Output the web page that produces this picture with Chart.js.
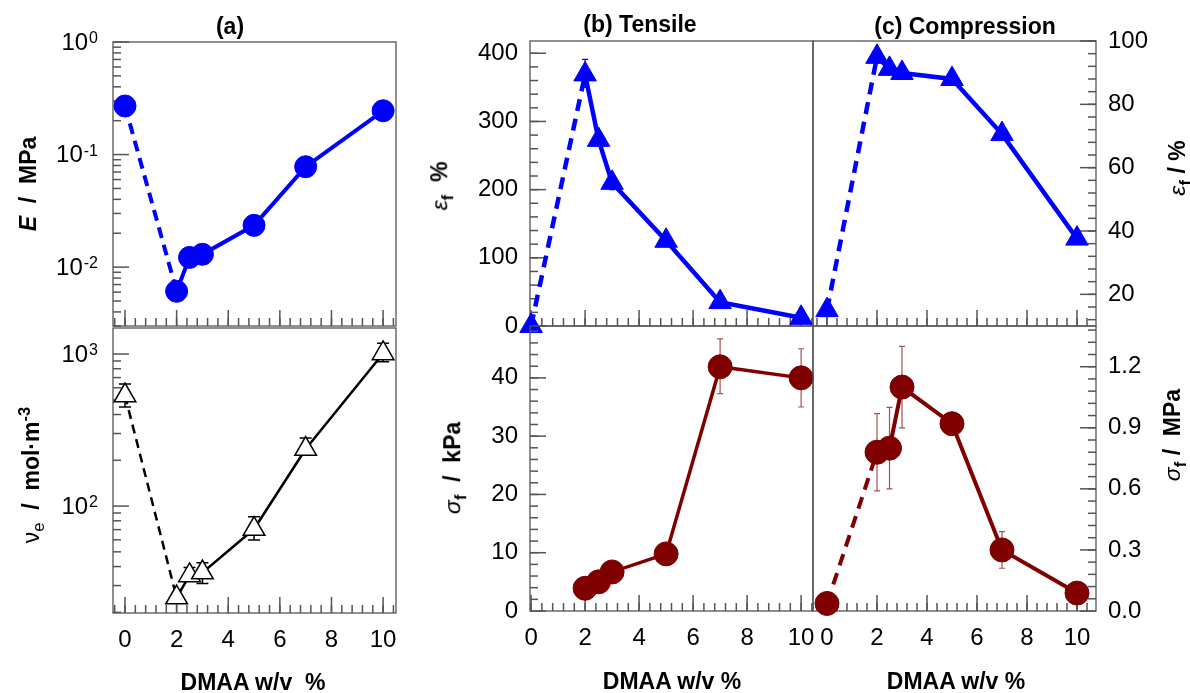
<!DOCTYPE html>
<html lang="en">
<head>
<meta charset="utf-8">
<title>DMAA</title>
<script src="https://cdn.jsdelivr.net/npm/chart.js@4.4.0/dist/chart.umd.min.js"></script>
<style>
  html, body { margin: 0; padding: 0; background: #fff; }
  #lienzo { position: relative; width: 1190px; height: 693px; overflow: hidden; font-family: "Liberation Sans", Arial, sans-serif; }
  #lienzo canvas { position: absolute; left: 0; top: 0; }
  .rotulo { position: absolute; white-space: nowrap; color: #000; font-size: 23px; font-weight: bold; transform: translate(-50%, -50%); }
  .vertical { transform: translate(-50%, -50%) rotate(-90deg); }
  .fino { font-weight: normal; }
  .rotulo sub, .rotulo sup { font-size: 0.72em; }
</style>
</head>
<body>
<div id="lienzo">
  <canvas id="aSup" width="1190" height="693"></canvas>
  <canvas id="aInf" width="1190" height="693"></canvas>
  <canvas id="bSup" width="1190" height="693"></canvas>
  <canvas id="bInf" width="1190" height="693"></canvas>
  <canvas id="cSup" width="1190" height="693"></canvas>
  <canvas id="cInf" width="1190" height="693"></canvas>

  <div class="rotulo" style="left:230px; top:26px">(a)</div>
  <div class="rotulo" style="left:640px; top:24px">(b) Tensile</div>
  <div class="rotulo" style="left:965px; top:26px">(c) Compression</div>

  <div class="rotulo vertical" style="left:28px; top:184px"><i>E</i>&nbsp;&nbsp;/&nbsp;&nbsp;MPa</div>
  <div class="rotulo vertical" style="left:32px; top:475px"><span class="fino">ν<sub>e</sub></span>&nbsp;&nbsp;/&nbsp;&nbsp;mol·m<sup>-3</sup></div>
  <div class="rotulo vertical" style="left:442px; top:186px"><i class="fino">ε</i><sub>f</sub>&nbsp;&nbsp;%</div>
  <div class="rotulo vertical" style="left:455px; top:468px"><i class="fino">σ</i><sub>f</sub>&nbsp;&nbsp;/&nbsp;&nbsp;kPa</div>
  <div class="rotulo vertical" style="left:1180px; top:168px"><i class="fino">ε</i><sub>f</sub>&nbsp;/&nbsp;%</div>
  <div class="rotulo vertical" style="left:1175px; top:435px"><i class="fino">σ</i><sub>f</sub>&nbsp;/&nbsp;&nbsp;MPa</div>

  <div class="rotulo" style="left:253px; top:682px">DMAA w/v&nbsp;&nbsp;%</div>
  <div class="rotulo" style="left:672px; top:681px">DMAA w/v %</div>
  <div class="rotulo" style="left:956px; top:681px">DMAA w/v %</div>
</div>
<script>
// Datos
const concentracion = [0, 2, 2.5, 3, 5, 7, 10];
const moduloE = [0.27, 0.0061, 0.0122, 0.013, 0.0235, 0.078, 0.245];
const densidadNu = [533, 25, 35, 36.5, 70.6, 237, 1008];
const densidadNuMin = [448, null, null, 31, 59.7, null, 890];
const densidadNuMax = [635, null, 39.5, 42.4, 85, 280, 1176];

const deformTraccion = [0, 369, 273, 210, 125, 35, 12];
const deformTraccionMin = [null, 350, 265, 200, null, null, null];
const deformTraccionMax = [null, 391, 285, 220, null, null, null];

const concTraccion = [2, 2.5, 3, 5, 7, 10];
const esfuerzoTraccion = [3.9, 5.0, 6.7, 9.8, 41.9, 40.0];
const esfuerzoTraccionMin = [null, null, null, null, 37.3, 35];
const esfuerzoTraccionMax = [null, null, null, null, 46.7, 45];

const deformCompresion = [15, 95, 91.2, 89.9, 88, 70.6, 37.6];
const esfuerzoCompresion = [0.037, 0.78, 0.80, 1.10, 0.92, 0.30, 0.088];
const esfuerzoCompresionMin = [null, 0.59, 0.60, 0.90, null, 0.21, null];
const esfuerzoCompresionMax = [null, 0.97, 1.00, 1.30, null, 0.39, null];

// Marcas y etiquetas de los ejes
const ticksEjeX = [0, 2, 4, 6, 8, 10];
const ticksModulo = [0.01, 0.1, 1];
const exponentesModulo = ['-2', '-1', '0'];
const ticksNu = [100, 1000];
const exponentesNu = ['2', '3'];
const ticksDeformT = [0, 100, 200, 300, 400];
const ticksEsfuerzoT = [0, 10, 20, 30, 40];
const ticksDeformC = [20, 40, 60, 80, 100];
const ticksEsfuerzoC = [0, 0.3, 0.6, 0.9, 1.2];

(function(){
  const ANCHO = 1190, ALTO = 693;
  const ANCHO_Y = 90, ALTO_X = 45;
  const FAMILIA = '"Liberation Sans", Arial, sans-serif';
  const FUENTE = { family: FAMILIA, size: 24 };
  const GRIS = '#555';

  const rango = (desde, hasta, paso) => {
    const valores = [];
    for (let v = desde; v <= hasta + 1e-9; v += paso) valores.push(+v.toFixed(4));
    return valores;
  };
  const menoresLog = (decIni, decFin) => {
    const valores = [];
    for (let d = decIni; d <= decFin; d++) {
      for (let m = 2; m <= 9; m++) valores.push(m * Math.pow(10, d));
    }
    return valores;
  };

  // Marco del panel y marcas hacia adentro
  const marcoYMarcas = {
    id: 'marcoYMarcas',
    beforeDatasetsDraw(chart, args, op) {
      const { ctx, chartArea: area } = chart;
      const sx = chart.scales.x, sy = chart.scales.y;
      ctx.save();
      ctx.strokeStyle = GRIS;
      ctx.lineWidth = 1.3;
      ctx.strokeRect(area.left, area.top, area.right - area.left, area.bottom - area.top);
      ctx.lineWidth = 1.5;
      const linea = (x1, y1, x2, y2) => { ctx.beginPath(); ctx.moveTo(x1, y1); ctx.lineTo(x2, y2); ctx.stroke(); };
      const marcaX = (v, largo) => {
        const px = sx.getPixelForValue(v);
        if (px < area.left - 0.5 || px > area.right + 0.5) return;
        linea(px, area.bottom, px, area.bottom - largo);
      };
      const marcaY = (v, largo) => {
        const py = sy.getPixelForValue(v);
        if (py < area.top - 0.5 || py > area.bottom + 0.5) return;
        if (op.lado === 'right') linea(area.right, py, area.right - largo, py);
        else linea(area.left, py, area.left + largo, py);
      };
      op.xMenor.forEach(v => marcaX(v, 8));
      op.xMayor.forEach(v => marcaX(v, 16));
      op.yMenor.forEach(v => marcaY(v, 8));
      op.yMayor.forEach(v => marcaY(v, 16));
      ctx.restore();
    }
  };

  // Etiquetas 10^n con exponente elevado para los ejes logarítmicos
  const etiquetasPotencia = {
    id: 'etiquetasPotencia',
    afterDraw(chart, args, op) {
      if (!op.exponentes) return;
      const { ctx, chartArea: area } = chart;
      const sy = chart.scales.y;
      ctx.save();
      ctx.fillStyle = '#000';
      sy.ticks.forEach((t, i) => {
        const py = sy.getPixelForValue(t.value);
        const exp = op.exponentes[i];
        ctx.font = '16px ' + FAMILIA;
        const anchoExp = ctx.measureText(exp).width;
        const derecha = area.left - 15;
        ctx.textAlign = 'left';
        ctx.textBaseline = 'alphabetic';
        ctx.fillText(exp, derecha - anchoExp, py + 1);
        ctx.font = '24px ' + FAMILIA;
        ctx.textAlign = 'right';
        ctx.textBaseline = 'middle';
        ctx.fillText('10', derecha - anchoExp - 1, py + 1);
      });
      ctx.restore();
    }
  };

  // Barras de error con tapas
  const barrasError = {
    id: 'barrasError',
    beforeDatasetsDraw(chart, args, op) {
      if (!op.min) return;
      const { ctx } = chart;
      const sx = chart.scales.x, sy = chart.scales.y;
      const puntos = chart.data.datasets[0].data;
      ctx.save();
      ctx.strokeStyle = op.color;
      ctx.lineWidth = op.grosor;
      puntos.forEach((p, i) => {
        const px = sx.getPixelForValue(p.x);
        const py = sy.getPixelForValue(p.y);
        [op.min[i], op.max[i]].forEach(v => {
          if (v === null || v === undefined) return;
          const pv = sy.getPixelForValue(v);
          ctx.beginPath();
          ctx.moveTo(px, py); ctx.lineTo(px, pv);
          ctx.moveTo(px - op.tapa, pv); ctx.lineTo(px + op.tapa, pv);
          ctx.stroke();
        });
      });
      ctx.restore();
    }
  };

  const crearPanel = (id, cfg) => {
    const lienzo = document.getElementById(id);
    const contexto = lienzo.getContext('2d');
    const [izq, arr, der, aba] = cfg.area;
    const ladoY = cfg.ladoY || 'left';
    const altoX = cfg.etiquetasX ? ALTO_X : 0;
    const relleno = {
      left: ladoY === 'left' ? izq - ANCHO_Y : izq,
      right: ladoY === 'right' ? ANCHO - der - ANCHO_Y : ANCHO - der,
      top: arr,
      bottom: ALTO - aba - altoX
    };

    return new Chart(contexto, {
      type: 'line',
      data: {
        datasets: [{
          data: cfg.xs.map((x, i) => ({ x, y: cfg.ys[i] })),
          borderColor: cfg.color,
          backgroundColor: cfg.relleno || cfg.color,
          pointBackgroundColor: cfg.relleno || cfg.color,
          pointBorderColor: cfg.color,
          pointBorderWidth: cfg.bordePunto || 1,
          pointStyle: cfg.marcador,
          pointRadius: cfg.radio,
          borderWidth: cfg.grosor,
          tension: 0,
          clip: false,
          segment: {
            borderDash: ctx => (cfg.guion && ctx.p0DataIndex === 0) ? cfg.guion : undefined
          }
        }]
      },
      options: {
        responsive: false,
        animation: false,
        events: [],
        layout: { padding: relleno },
        plugins: {
          legend: { display: false },
          tooltip: { enabled: false },
          marcoYMarcas: {
            lado: ladoY,
            xMayor: ticksEjeX,
            xMenor: rango(-0.4, 10.4, 0.4),
            yMayor: cfg.ticksY,
            yMenor: cfg.menoresY
          },
          etiquetasPotencia: { exponentes: cfg.exponentesY },
          barrasError: cfg.error || {}
        },
        scales: {
          x: {
            type: 'linear',
            position: 'bottom',
            min: cfg.rangoX[0],
            max: cfg.rangoX[1],
            grid: { display: false, drawTicks: false },
            border: { display: false },
            ticks: {
              display: !!cfg.etiquetasX,
              font: FUENTE,
              color: '#000',
              padding: 13,
              maxRotation: 0,
              autoSkip: false
            },
            afterBuildTicks: s => { s.ticks = ticksEjeX.map(v => ({ value: v })); },
            afterFit: s => { s.height = altoX; s.paddingLeft = 0; s.paddingRight = 0; }
          },
          y: {
            type: cfg.log ? 'logarithmic' : 'linear',
            position: ladoY,
            min: cfg.rangoY[0],
            max: cfg.rangoY[1],
            grid: { display: false, drawTicks: false },
            border: { display: false },
            ticks: {
              display: !cfg.exponentesY,
              font: FUENTE,
              color: '#000',
              padding: 12,
              autoSkip: false,
              callback: (v, i) => cfg.etiquetasY ? cfg.etiquetasY[i] : '10'
            },
            afterBuildTicks: s => { s.ticks = cfg.ticksY.map(v => ({ value: v })); },
            afterFit: s => { s.width = ANCHO_Y; s.paddingTop = 0; s.paddingBottom = 0; }
          }
        }
      },
      plugins: [marcoYMarcas, barrasError, etiquetasPotencia]
    });
  };

  const inicializar = () => {
    if (typeof Chart === 'undefined') return;
    Chart.defaults.font.family = FAMILIA;

    crearPanel('aSup', {
      area: [113, 42, 396, 326],
      xs: concentracion, ys: moduloE,
      log: true, rangoX: [-0.465, 10.5], rangoY: [0.003, 1],
      ticksY: ticksModulo, exponentesY: exponentesModulo, menoresY: menoresLog(-3, -1),
      color: '#0000ff', marcador: 'circle', radio: 11, grosor: 4, guion: [11, 7]
    });
    crearPanel('aInf', {
      area: [113, 328, 396, 613],
      xs: concentracion, ys: densidadNu,
      log: true, rangoX: [-0.465, 10.5], rangoY: [19.8, 1483],
      ticksY: ticksNu, exponentesY: exponentesNu, menoresY: menoresLog(1, 3),
      etiquetasX: true,
      color: '#000000', relleno: '#ffffff', bordePunto: 1.5,
      marcador: 'triangle', radio: 12.5, grosor: 2.5, guion: [9, 6],
      error: { min: densidadNuMin, max: densidadNuMax, color: '#000', grosor: 1.5, tapa: 6 }
    });
    crearPanel('bSup', {
      area: [530, 41, 813, 326],
      xs: concentracion, ys: deformTraccion,
      rangoX: [-0.04, 10.44], rangoY: [0, 418],
      ticksY: ticksDeformT, etiquetasY: ticksDeformT.map(String), menoresY: rango(20, 400, 20),
      color: '#0000ff', marcador: 'triangle', radio: 13, grosor: 4.5, guion: [12, 8],
      error: { min: deformTraccionMin, max: deformTraccionMax, color: '#0000ff', grosor: 1.2, tapa: 3 }
    });
    crearPanel('bInf', {
      area: [530, 326, 813, 611],
      xs: concTraccion, ys: esfuerzoTraccion,
      rangoX: [-0.04, 10.44], rangoY: [0, 48.9],
      ticksY: ticksEsfuerzoT, etiquetasY: ticksEsfuerzoT.map(String), menoresY: rango(2, 48, 2),
      etiquetasX: true,
      color: '#800000', marcador: 'circle', radio: 12, grosor: 3.5,
      error: { min: esfuerzoTraccionMin, max: esfuerzoTraccionMax, color: '#a65252', grosor: 1.2, tapa: 3 }
    });
    crearPanel('cSup', {
      area: [813, 41, 1096, 326],
      xs: concentracion, ys: deformCompresion, ladoY: 'right',
      rangoX: [-0.56, 10.76], rangoY: [10, 100],
      ticksY: ticksDeformC, etiquetasY: ticksDeformC.map(String), menoresY: rango(12, 100, 4),
      color: '#0000ff', marcador: 'triangle', radio: 13, grosor: 4.5, guion: [12, 8]
    });
    crearPanel('cInf', {
      area: [813, 326, 1096, 611],
      xs: concentracion, ys: esfuerzoCompresion, ladoY: 'right',
      rangoX: [-0.56, 10.76], rangoY: [0, 1.4],
      ticksY: ticksEsfuerzoC, etiquetasY: ticksEsfuerzoC.map(v => v.toFixed(1)), menoresY: rango(0.06, 1.38, 0.06),
      etiquetasX: true,
      color: '#800000', marcador: 'circle', radio: 12, grosor: 4, guion: [12, 8],
      error: { min: esfuerzoCompresionMin, max: esfuerzoCompresionMax, color: '#a65252', grosor: 1.2, tapa: 3 }
    });
  };

  if (document.readyState === 'loading') {
    document.addEventListener('DOMContentLoaded', inicializar);
  } else {
    inicializar();
  }
})();
</script>
</body>
</html>
